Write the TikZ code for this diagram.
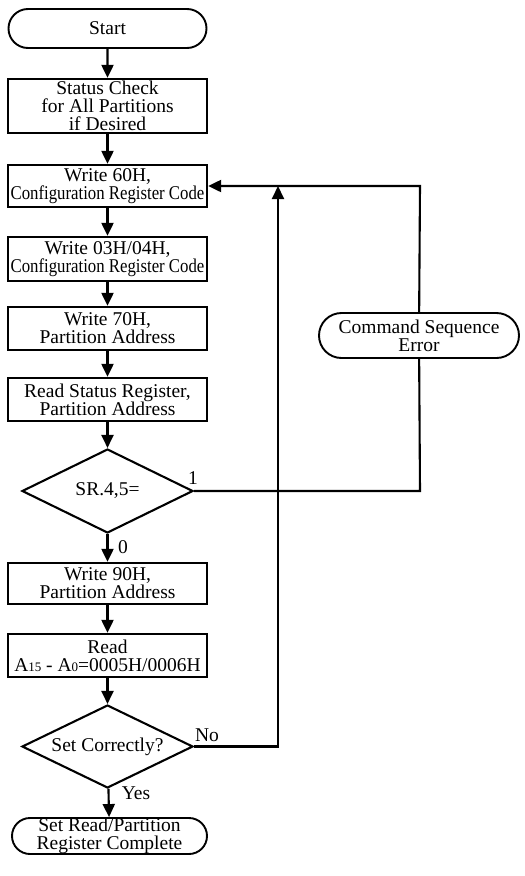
\documentclass[tikz,border=0pt]{standalone}
\usepackage{fontspec}
\usepackage{graphicx}
\setmainfont{Liberation Serif}
\usetikzlibrary{shapes.geometric,shapes.misc,arrows.meta}
\newcommand{\cfgline}[1]{\scalebox{0.86}[1]{#1}}
\newcommand{\smalldig}[1]{{\fontsize{13}{13}\selectfont #1}}
\begin{document}
\begin{tikzpicture}[x=1pt,y=-1pt,
  every node/.style={font=\fontsize{19.5}{18}\selectfont, align=center, inner sep=0pt},
  proc/.style={draw, line width=2.3pt, minimum width=199pt},
  term/.style={draw, rounded rectangle, line width=1.9pt},
  dec/.style={draw, diamond, aspect=2, line width=2.1pt, minimum width=171pt, minimum height=84pt},
  arr/.style={line width=2.1pt, -{Triangle[width=12pt,length=13pt]}},
  ln/.style={line width=2.1pt},
  lbl/.style={font=\fontsize{19.5}{18}\selectfont}
]
\useasboundingbox (0,0) rectangle (525,876);

\node[term, minimum width=198pt, minimum height=39pt] (start) at (107.5,28.5) {Start};
\node[proc, minimum height=54pt] (status) at (107.5,106) {Status Check\\for All Partitions\\if Desired};
\node[proc, minimum height=42pt] (w60) at (107.5,186) {Write 60H,\\\cfgline{Configuration Register Code}};
\node[proc, minimum height=44pt] (w03) at (107.5,259) {Write 03H/04H,\\\cfgline{Configuration Register Code}};
\node[proc, minimum height=43pt] (w70) at (107.5,328.5) {Write 70H,\\Partition Address};
\node[proc, minimum height=43pt] (rsr) at (107.5,399.5) {Read Status Register,\\Partition Address};
\node[dec] (sr) at (107.5,491) {SR.4,5=};
\node[proc, minimum height=41pt] (w90) at (107.5,583.5) {Write 90H,\\Partition Address};
\node[proc, minimum height=43pt] (rd) at (107.5,655.5) {Read\\A\smalldig{15} - A\smalldig{0}=0005H/0006H};
\node[dec, minimum height=83pt] (sc) at (107.5,746.5) {Set Correctly?};
\node[term, minimum width=195pt, minimum height=36pt] (done) at (109.5,836) {Set Read/Partition\\Register Complete};
\node[term, minimum width=200pt, minimum height=45pt] (cse) at (419,335.5) {Command Sequence\\Error};

\coordinate (c1) at (420,491);
\coordinate (c2) at (420,186);
\coordinate (c3) at (278,746.5);
\coordinate (c4) at (278,186);

\draw[arr] (start) -- (status);
\draw[arr] (status) -- (w60);
\draw[arr] (w60) -- (w03);
\draw[arr] (w03) -- (w70);
\draw[arr] (w70) -- (rsr);
\draw[arr] (rsr) -- (sr);
\draw[arr] (sr) -- (w90);
\draw[arr] (w90) -- (rd);
\draw[arr] (rd) -- (sc);
\draw[arr] (sc) -- (done);

\draw[ln] (sr.east) -- (c1) -- (cse);
\draw[arr] (cse) -- (c2) -- (w60.east);
\draw[arr] (sc.east) -- (c3) -- (c4);

\node[lbl] (l1) at (193,478) {1};
\node[lbl] (l0) at (123,547) {0};
\node[lbl] (lno) at (207,735) {No};
\node[lbl] (lyes) at (136,793) {Yes};
\end{tikzpicture}
\end{document}
